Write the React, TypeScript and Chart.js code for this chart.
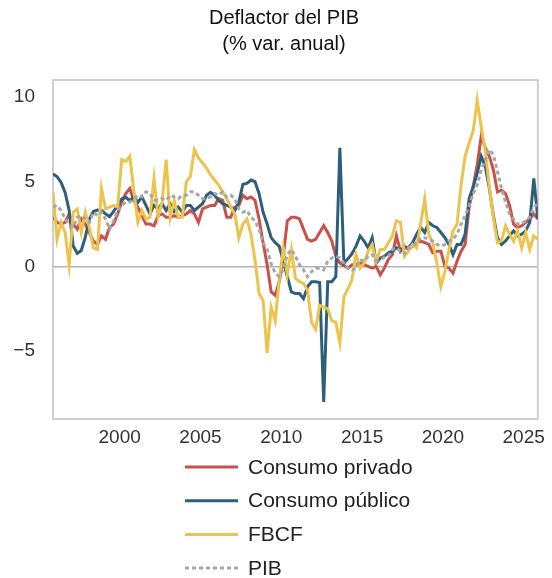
import React, { useEffect, useRef } from 'react';
import { Chart, registerables } from 'chart.js';

Chart.register(...registerables);

// ---- Data (quarterly, 1995Q4 .. 2025Q4), % y/y ----
const FIRST_YEAR = 1995;
const FIRST_QUARTER = 4;

const CONSUMO_PRIVADO = [
  2.9, 2.6, 2.5, 2.6, 3.1, 2.5, 2.2, 2.8, 2.5, 2.0,
  1.5, 1.3, 1.8, 1.6, 2.3, 2.5, 3.1, 3.8, 4.3, 4.6,
  3.9, 3.5, 3.0, 2.5, 2.5, 2.4, 3.0, 3.1, 2.9, 2.9,
  3.0, 2.9, 3.0, 3.1, 3.3, 3.1, 2.6, 3.4, 3.5, 3.6,
  3.6, 4.0, 3.9, 2.9, 2.9, 3.5, 3.6, 4.2, 4.0, 4.1,
  3.9, 2.8, 1.4, 0.1, -1.5, -1.7, -0.9, 0.6, 2.7, 2.9,
  2.9, 2.8, 2.2, 1.6, 1.5, 1.6, 2.0, 2.4, 2.0, 1.5,
  0.6, 0.2, 0.05, -0.1, 0.1, 0.1, 0.2, 0.1, 0.0, -0.1,
  0.0, -0.5, -0.1, 0.4, 0.7, 1.8, 0.9, 1.2, 1.0, 1.2,
  1.4, 1.5, 1.4, 1.3, 0.8, 0.9, 0.9, 0.0, -0.1, -0.4,
  0.3, 0.9, 1.3, 3.5, 4.7, 6.0, 7.7, 7.0, 6.5, 5.7,
  4.4, 4.5, 4.3, 3.6, 2.5, 2.3, 2.4, 2.6, 2.8, 3.1, 2.8,
];

const CONSUMO_PUBLICO = [
  5.45, 5.3, 4.96, 4.37, 3.3, 1.2, 0.78, 0.94, 1.73, 2.8,
  3.25, 3.33, 3.3, 3.1, 2.94, 3.25, 3.6, 3.98, 4.08, 3.88,
  4.12, 3.78, 4.1, 3.6, 3.1, 3.6, 3.4, 3.7, 3.3, 3.7,
  3.25, 3.5, 3.2, 3.6, 3.6, 3.3, 3.5, 3.7, 4.2, 4.37,
  4.2, 3.9, 3.7, 3.6, 3.5, 3.3, 3.8, 4.85, 4.9, 5.1,
  5.0, 4.3, 3.2, 2.5, 1.7, 1.4, 1.2, 0.3, -0.6, -1.5,
  -1.6, -1.6, -1.9, -1.2, -0.9, -0.9, -0.95, -8.0, -0.9, -0.9,
  -0.6, 7.0, 0.2, 0.45, 0.75, 1.2, 1.8, 1.5, 1.1, 1.7,
  0.2, 0.5, 0.6, 0.8, 0.9, 1.1, 0.95, 1.1, 1.1, 1.4,
  1.9, 2.3, 2.0, 2.6, 2.4, 2.3, 2.0, 1.7, 1.3, 0.7,
  1.3, 1.3, 1.9, 4.0, 4.7, 5.5, 6.5, 5.9, 4.6, 3.0,
  1.7, 1.3, 1.5, 1.8, 2.1, 1.8, 1.9, 2.1, 2.6, 5.2, 2.8,
];

const FBCF = [
  4.4, 1.6, 2.6, 2.0, 0.1, 3.2, 3.4, 2.0, 3.2, 2.3,
  1.1, 1.0, 4.6, 3.4, 3.5, 3.6, 3.5, 6.3, 6.2, 6.5,
  4.5, 2.6, 3.3, 2.8, 2.9, 5.2, 2.9, 3.8, 6.3, 2.9,
  3.9, 2.9, 2.9, 5.0, 5.3, 6.9, 6.4, 6.1, 5.8, 5.4,
  5.1, 4.8, 4.4, 4.0, 3.5, 3.1, 1.7, 2.5, 2.8, 1.9,
  0.4, -1.6, -2.0, -5.1, -2.4, -3.2, -0.8, 1.1, -0.5, 1.0,
  -0.7, -0.9, -1.0, -1.4, -3.3, -3.7, -2.3, -2.4, -2.5, -3.2,
  -3.3, -4.5, -1.8, -1.3, -0.8, 0.7, -0.1, 0.2, 0.9, 1.3,
  0.3, 1.0, 1.0, 1.4, 1.8, 2.7, 2.6, 0.6, 0.9, 1.3,
  1.1, 2.5, 4.0, 1.9, 1.4, 0.2, -1.2, -0.3, 1.0, 2.1,
  2.5, 4.8, 6.5, 7.3, 8.0, 9.8, 8.2, 6.8, 4.7, 2.9,
  1.4, 1.5, 2.4, 1.9, 1.5, 2.1, 1.1, 2.0, 1.0, 1.8, 1.6,
];

const PIB = [
  3.5, 3.6, 3.3, 2.8, 2.5, 2.3, 2.9, 3.0, 2.8, 2.6,
  3.2, 3.0, 3.2, 2.8, 2.2, 2.7, 3.3, 3.6, 3.8, 3.8,
  4.0, 4.2, 4.1, 4.4, 4.3, 3.9, 3.9, 4.0, 3.9, 4.2,
  4.1, 4.0, 4.2, 4.2, 4.4, 4.4, 4.2, 4.0, 4.0, 4.1,
  4.3, 4.2, 4.4, 4.1, 4.2, 4.0, 3.4, 3.2, 3.3, 2.9,
  2.7, 2.2, 1.4, 1.0, 0.15, -0.4, -0.6, -0.2, 0.7, 1.0,
  0.6, 0.1, -0.2, -0.6, -0.3, -0.1, -0.1, -0.2, 0.3, 0.5,
  0.6, 0.5, 0.2, -0.1, -0.2, -0.1, 0.4, 0.3, 0.6, 0.7,
  0.35, 0.4, 0.55, 0.6, 1.0, 1.1, 0.9, 0.75, 1.1, 1.2,
  1.4, 1.7, 1.7, 1.6, 1.5, 1.3, 1.2, 1.3, 1.5, 1.6,
  1.9, 2.5, 3.0, 3.6, 4.3, 4.8, 5.7, 6.3, 6.9, 6.6,
  5.6, 4.6, 3.8, 3.1, 2.8, 2.5, 2.5, 2.7, 2.9, 3.5, 3.7,
];

const SERIES_LABELS = ['Consumo privado', 'Consumo público', 'FBCF', 'PIB'];
const SERIES_COLORS = ['#c9504b', '#2e5f7a', '#ecc44c', '#a5a7aa'];
const TITLE_LINES = ['Deflactor del PIB', '(% var. anual)'];
const X_TICKS = [2000, 2005, 2010, 2015, 2020, 2025];
const Y_TICKS = [-5, 0, 5, 10];
const Y_MIN = -9;
const Y_MAX = 11;

// quarter positions (mid-quarter in decimal years)
const QUARTER_X: number[] = CONSUMO_PRIVADO.map((_, i) => {
  const q0 = FIRST_QUARTER - 1 + i;
  const year = FIRST_YEAR + Math.floor(q0 / 4);
  const q = (q0 % 4) + 1;
  return year + (q - 0.5) / 4;
});

const FONT = '"Liberation Sans", Arial, Helvetica, sans-serif';

const decorPlugin = {
  id: 'decor',
  beforeDatasetsDraw(chart: any) {
    const { ctx, chartArea: a } = chart;
    ctx.save();
    ctx.strokeStyle = '#cfcfcf';
    ctx.lineWidth = 2;
    ctx.strokeRect(a.left, a.top, a.right - a.left, a.bottom - a.top);
    ctx.restore();
  },
  afterDraw(chart: any) {
    const { ctx } = chart;
    ctx.save();
    // title
    ctx.fillStyle = '#111111';
    ctx.font = `20px ${FONT}`;
    ctx.textAlign = 'center';
    ctx.textBaseline = 'middle';
    TITLE_LINES.forEach((t, i) => ctx.fillText(t, 284, 18 + i * 26));
    // legend (one entry per row)
    const datasets = chart.data.datasets;
    const order = [0, 1, 2, 3];
    order.forEach((di, row) => {
      const ds = datasets[di];
      const y = 467 + row * 33.7;
      ctx.beginPath();
      ctx.strokeStyle = ds.borderColor;
      ctx.lineWidth = 3;
      ctx.setLineDash(ds.borderDash || []);
      ctx.moveTo(185, y);
      ctx.lineTo(238, y);
      ctx.stroke();
      ctx.setLineDash([]);
      ctx.fillStyle = '#222222';
      ctx.font = `21px ${FONT}`;
      ctx.textAlign = 'left';
      ctx.textBaseline = 'middle';
      ctx.fillText(ds.label, 248, y + 1);
    });
    ctx.restore();
  },
};

export default function App() {
  const canvasRef = useRef<HTMLCanvasElement | null>(null);

  useEffect(() => {
    if (!canvasRef.current) return;
    const seriesValues = [CONSUMO_PRIVADO, CONSUMO_PUBLICO, FBCF, PIB];
    const drawOrder = [4, 3, 2, 1];
    const chart = new Chart(canvasRef.current, {
      type: 'line',
      data: {
        datasets: seriesValues.map((vals, i) => ({
          label: SERIES_LABELS[i],
          data: vals.map((v, k) => ({ x: QUARTER_X[k], y: v })),
          borderColor: SERIES_COLORS[i],
          backgroundColor: SERIES_COLORS[i],
          borderWidth: 3,
          borderDash: i === 3 ? [4, 3] : [],
          pointRadius: 0,
          tension: 0,
          fill: false,
          order: drawOrder[i],
        })),
      },
      options: {
        responsive: false,
        animation: false,
        layout: { autoPadding: false, padding: { left: 0, right: 6, top: 80, bottom: 129 } },
        plugins: {
          legend: { display: false },
          title: { display: false },
          tooltip: { enabled: false },
        },
        scales: {
          x: {
            type: 'linear',
            min: QUARTER_X[0],
            max: QUARTER_X[QUARTER_X.length - 1],
            afterBuildTicks: (s: any) => {
              s.ticks = X_TICKS.map((v) => ({ value: v }));
            },
            afterFit: (s: any) => {
              s.height = 30;
            },
            grid: { display: false, drawTicks: false },
            border: { display: false },
            ticks: {
              color: '#333333',
              font: { size: 19, family: FONT },
              padding: 7,
              maxRotation: 0,
              autoSkip: false,
              callback: (v: any) => String(v),
            },
          },
          y: {
            type: 'linear',
            min: Y_MIN,
            max: Y_MAX,
            afterBuildTicks: (s: any) => {
              s.ticks = Y_TICKS.map((v) => ({ value: v }));
            },
            afterFit: (s: any) => {
              s.width = 53;
            },
            grid: {
              drawTicks: false,
              lineWidth: 1.5,
              color: (c: any) => (c.tick && c.tick.value === 0 ? '#b3b3b3' : 'rgba(0,0,0,0)'),
            },
            border: { display: false },
            ticks: {
              color: '#333333',
              font: { size: 19, family: FONT },
              padding: 18,
              callback: (v: any) => (v < 0 ? '\u2212' + Math.abs(v) : String(v)),
            },
          },
        },
      },
      plugins: [decorPlugin],
    });
    return () => chart.destroy();
  }, []);

  return (
    <div style={{ position: 'absolute', left: 0, top: 0, width: 552, height: 578, background: '#fff' }}>
      <canvas ref={canvasRef} width={552} height={578} />
    </div>
  );
}
